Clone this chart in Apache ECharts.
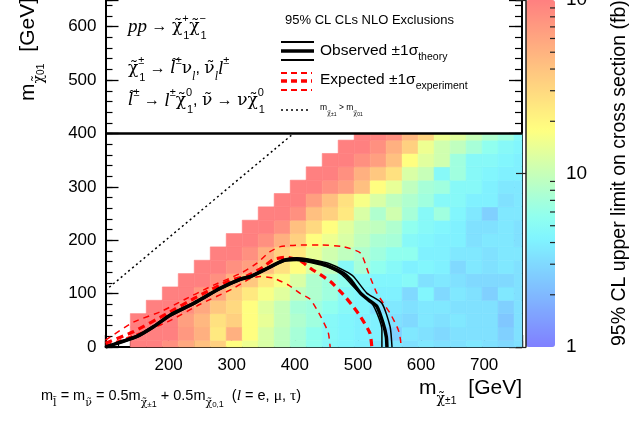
<!DOCTYPE html>
<html>
<head>
<meta charset="utf-8">
<script src="https://cdn.jsdelivr.net/npm/echarts@6/dist/echarts.min.js"></script>
<style>
  html, body { margin: 0; padding: 0; background: #fff; }
  #main { width: 642px; height: 432px; }
</style>
</head>
<body>
<div id="main"></div>
<script>
// chargino mass bin centres (GeV)
const massX = [101.3, 126.6, 152.0, 177.3, 202.7, 228.0, 253.3, 278.7, 304.0, 329.4, 354.7, 380.0, 405.4, 430.7,
  456.1, 481.4, 506.7, 532.1, 557.4, 582.8, 608.1, 633.4, 658.8, 684.1, 709.5, 734.8, 760.1];
// neutralino mass bin centres (GeV)
const massY = [0, 25, 50, 75, 100, 125, 150, 175, 200, 225, 250, 275, 300, 325, 350, 375, 400];

// 95% CL upper limit on cross section (fb), one row per neutralino bin, null = no point
const limitRows = [
  [null, null, 100, 100, 80, 58, 42, 34, 18, 15, 12, 9.3, 7.2, 5.6, 4.8, 4.4, 4.0, 3.6, 3.6, 3.3, 3.6, 3.3, 3.3, 3.6, 3.3, 3.0, 3.3],
  [null, null, 100, 100, 100, 72, 52, 24, 52, 18, 12, 9.3, 7.2, 5.6, 4.8, 4.4, 4.0, 4.0, 2.7, 3.6, 3.3, 3.0, 3.3, 3.3, 3.3, 2.7, 3.3],
  [null, null, 100, 100, 100, 65, 47, 27, 34, 18, 14, 10, 7.9, 6.7, 4.8, 4.4, 4.0, 4.0, 3.3, 3.0, 3.6, 3.3, 3.6, 3.3, 3.3, 2.4, 3.3],
  [null, null, null, 100, 100, 80, 58, 38, 30, 18, 13, 10, 7.2, 6.7, 5.6, 4.8, 4.4, 3.3, 3.6, 3.3, 3.6, 3.6, 3.3, 3.3, 3.3, 2.7, 3.3],
  [null, null, null, null, 100, 100, 72, 58, 34, 24, 16.6, 13, 9.3, 7.9, 6.7, 4.8, 4.4, 4.0, 4.0, 3.0, 4.4, 3.0, 3.6, 3.3, 2.7, 3.6, 3.3],
  [null, null, null, null, null, 100, 100, 80, 52, 38, 24, 16.6, 12, 7.9, 6.7, 5.6, 4.8, 4.4, 4.4, 4.8, 3.3, 3.6, 3.3, 3.0, 3.0, 3.0, 3.3],
  [null, null, null, null, null, null, 100, 100, 80, 65, 42, 27, 18, 12, 9.3, 4.8, 7.2, 5.6, 4.8, 4.0, 4.4, 4.0, 3.0, 3.6, 3.3, 3.6, 3.3],
  [null, null, null, null, null, null, null, 100, 100, 80, 52, 34, 24, 14, 11, 9.3, 7.9, 6.7, 5.6, 5.6, 4.0, 4.0, 3.6, 3.6, 3.3, 3.6, 3.6],
  [null, null, null, null, null, null, null, null, 100, 100, 80, 52, 34, 18, 15, 12, 9.3, 7.6, 7.2, 4.8, 4.4, 4.0, 4.0, 3.3, 3.6, 3.6, 3.3],
  [null, null, null, null, null, null, null, null, null, 100, 100, 80, 42, 30, 18, 13, 10, 9.3, 7.9, 5.6, 4.8, 4.4, 4.0, 3.3, 3.3, 3.6, 3.3],
  [null, null, null, null, null, null, null, null, null, null, 100, 100, 80, 42, 34, 24, 12, 7.9, 11, 7.2, 4.8, 6.7, 4.4, 3.6, 2.7, 3.6, 3.6],
  [null, null, null, null, null, null, null, null, null, null, null, 100, 100, 65, 42, 27, 16.6, 12, 9.3, 7.9, 6.7, 4.8, 4.8, 4.0, 4.0, 3.3, 3.6],
  [null, null, null, null, null, null, null, null, null, null, null, null, 100, 100, 80, 65, 42, 18, 14, 9.3, 7.2, 6.7, 4.8, 4.8, 4.0, 3.6, 3.6],
  [null, null, null, null, null, null, null, null, null, null, null, null, null, 100, 100, 80, 52, 38, 27, 12, 10, 4.8, 6.7, 4.8, 4.4, 4.0, 4.0],
  [null, null, null, null, null, null, null, null, null, null, null, null, null, null, 100, 100, 80, 65, 42, 18, 13, 11, 6.7, 4.8, 4.8, 4.4, 4.0],
  [null, null, null, null, null, null, null, null, null, null, null, null, null, null, null, 100, 100, 80, 52, 34, 15, 11, 9.3, 7.2, 5.6, 4.8, 4.4],
  [null, null, null, null, null, null, null, null, null, null, null, null, null, null, null, null, 100, 95, 80, 47, 32, 15, 13, 10, 7.9, 6.7, 4.8]
];

// exclusion contours [m_chargino, m_neutralino]
const observed = [[100, 0], [150, 20], [176, 38], [203, 60], [240, 82], [282, 110], [314, 127], [330, 132], [356, 147],
  [382, 162], [403, 165], [430, 160], [451, 153], [477, 138], [488, 126], [504, 101], [517, 88], [530, 76], [540, 44], [545, 19], [546, 0]];
const observedUp = [[100, 1], [150, 22], [176, 40], [203, 62], [240, 84], [282, 112], [314, 129], [330, 134], [356, 149],
  [382, 164], [403, 167], [430, 163], [455, 156], [480, 142], [493, 132], [514, 101], [538, 82], [551, 38], [554, 0]];
const observedDown = [[100, 0], [150, 18], [176, 36], [203, 58], [240, 80], [282, 108], [314, 125], [330, 130], [356, 145],
  [382, 160], [403, 162], [430, 157], [451, 150], [475, 135], [498, 107], [522, 82], [533, 55], [538, 32], [538, 0]];
const expected = [[100, 7], [145, 29], [198, 63], [245, 94], [298, 125], [324, 133], [350, 150], [366, 164], [385, 168],
  [408, 162], [424, 148], [456, 123], [477, 98], [491, 78], [504, 57], [519, 26], [522, 0]];
const expectedUp = [[100, 13], [145, 47], [187, 66], [224, 88], [266, 113], [314, 138], [340, 157], [360, 178], [377, 188],
  [409, 191], [440, 191], [477, 188], [504, 176], [517, 138], [530, 101], [551, 63], [564, 32], [568, 7], [567, 0]];
const expectedDown = [[100, 3], [145, 22], [198, 47], [250, 80], [303, 110], [329, 128], [345, 132], [366, 129], [390, 116],
  [409, 100], [424, 90], [435, 70], [442, 55], [453, 27], [456, 0]];
const kinematic = [[100, 106], [398, 400]];

// colour bar minor ticks (fb)
const cbarMinor = [2, 3, 4, 5, 6, 7, 8, 9, 20, 30, 40, 50, 60, 70, 80, 90];

const binW = 25.34, binH = 25;
const SANS = 'Liberation Sans', SERIF = 'Liberation Serif', GREEK = 'DejaVu Serif';
const CHI = 'χ\u0303', NUT = 'ν\u0303', LT = 'l\u0303';

const palette = ['#8080ff', '#8097ff', '#80afff', '#80c6ff', '#80ddff', '#80f5ff', '#90ffef', '#abffd4', '#c7ffb8',
  '#e3ff9c', '#ffff80', '#ffea80', '#ffd580', '#ffc080', '#ffaa80', '#ff9580', '#ff8080'];

const heatData = [];
limitRows.forEach((row, r) => {
  row.forEach((v, k) => {
    if (v != null) heatData.push([massX[k], massY[r], Math.log10(v)]);
  });
});

function renderCell(params, api) {
  const x = api.value(0), y = api.value(1);
  const x0 = Math.max(x - binW / 2, 100), x1 = Math.min(x + binW / 2, 760);
  const y0 = Math.max(y - binH / 2, 0), y1 = Math.min(y + binH / 2, 400);
  const p0 = api.coord([x0, y1]);
  const p1 = api.coord([x1, y0]);
  const c = api.visual('color');
  return {
    type: 'rect',
    shape: { x: p0[0], y: p0[1], width: p1[0] - p0[0], height: p1[1] - p0[1] },
    style: { fill: c, stroke: c, lineWidth: 0.6 }
  };
}

function contour(data, color, width, dash) {
  return {
    type: 'line', data: data, symbol: 'none', smooth: 0.2, clip: true, silent: true, z: 4,
    lineStyle: { color: color, width: width, type: dash || 'solid' }
  };
}

function axisBase(extra) {
  return Object.assign({
    type: 'value', splitLine: { show: false },
    axisLine: { show: true, onZero: false, lineStyle: { color: '#000', width: 2 } },
    axisTick: { show: true, inside: true, length: 12, lineStyle: { color: '#000', width: 1.3 } },
    axisLabel: { show: false }
  }, extra);
}

function txt(x, y, text, rich, style, rot) {
  return {
    type: 'text', x: x, y: y, rotation: rot || 0, z: 20, silent: true,
    style: Object.assign({ text: text, rich: rich, fill: '#000', fontFamily: SANS, fontSize: 16,
      align: 'left', verticalAlign: 'middle' }, style)
  };
}

const procRich = {
  r: { fontFamily: SANS, fontSize: 16, lineHeight: 28 },
  g: { fontFamily: GREEK, fontSize: 17, lineHeight: 28 },
  gi: { fontFamily: SERIF, fontStyle: 'italic', fontSize: 19, lineHeight: 28 },
  gt: { fontFamily: GREEK, fontStyle: 'italic', fontSize: 17, lineHeight: 28 },
  up: { fontFamily: SANS, fontSize: 11, lineHeight: 17, verticalAlign: 'top', width: 1 },
  upw: { fontFamily: SANS, fontSize: 11, lineHeight: 17, verticalAlign: 'top' },
  dn: { fontFamily: SANS, fontSize: 11, lineHeight: 14, verticalAlign: 'bottom' },
  dni: { fontFamily: SERIF, fontStyle: 'italic', fontSize: 12, lineHeight: 14, verticalAlign: 'bottom' }
};
const legRich = {
  t: { fontFamily: SANS, fontSize: 15.5, lineHeight: 24 },
  s: { fontFamily: SANS, fontSize: 10.5, lineHeight: 12, verticalAlign: 'bottom' }
};
const tinyRich = {
  m: { fontFamily: SANS, fontSize: 8.5, lineHeight: 18 },
  g: { fontFamily: GREEK, fontSize: 6.5, lineHeight: 11, verticalAlign: 'bottom' },
  u: { fontFamily: SANS, fontSize: 5, lineHeight: 16, verticalAlign: 'bottom' },
  d: { fontFamily: SANS, fontSize: 5, lineHeight: 7, verticalAlign: 'bottom' }
};
const footRich = {
  r: { fontFamily: SANS, fontSize: 14.5, lineHeight: 26 },
  i: { fontFamily: SERIF, fontStyle: 'italic', fontSize: 15.5, lineHeight: 26 },
  g: { fontFamily: SERIF, fontSize: 15.5, lineHeight: 26 },
  sg: { fontFamily: GREEK, fontSize: 11, lineHeight: 15, verticalAlign: 'bottom' },
  ss: { fontFamily: SANS, fontSize: 8, lineHeight: 21, verticalAlign: 'bottom' },
  s: { fontFamily: SANS, fontSize: 9, lineHeight: 10, verticalAlign: 'bottom' }
};
const titleRich = {
  r: { fontFamily: SANS, fontSize: 21, lineHeight: 36 },
  sg: { fontFamily: GREEK, fontSize: 14, lineHeight: 21, verticalAlign: 'bottom' },
  ss: { fontFamily: SANS, fontSize: 10, lineHeight: 30, verticalAlign: 'bottom' },
  s: { fontFamily: SANS, fontSize: 11, lineHeight: 13, verticalAlign: 'bottom' }
};

const option = {
  animation: false,
  backgroundColor: '#fff',
  grid: [
    { left: 105.5, right: 120, top: 0, bottom: 85, outerBoundsMode: 'none' },
    { left: 526, width: 29, top: 0, bottom: 85, outerBoundsMode: 'none' },
    { left: 105.5, right: 120, top: 0, bottom: 85, outerBoundsMode: 'none' }
  ],
  xAxis: [
    axisBase({
      gridIndex: 0, position: 'bottom', min: 100, max: 760, interval: 100,
      axisLabel: { show: true, fontSize: 17, fontFamily: SANS, color: '#000', margin: 10,
        formatter: v => (v === 100 || v === 760 ? '' : String(v)) }
    }),
    { type: 'value', gridIndex: 1, min: 0, max: 1, show: false },
    axisBase({
      gridIndex: 2, position: 'bottom', min: 100, max: 760, interval: 20,
      axisLine: { show: false }, axisTick: { show: true, inside: true, length: 6, lineStyle: { color: '#000', width: 1.2 } }
    })
  ],
  yAxis: [
    axisBase({
      gridIndex: 0, position: 'left', min: 0, max: 650, interval: 100,
      axisTick: { show: true, inside: true, length: 13, lineStyle: { color: '#000', width: 1.3 } },
      axisLabel: { show: true, fontSize: 17, fontFamily: SANS, color: '#000', margin: 9,
        formatter: v => (v % 100 === 0 ? String(v) : '') }
    }),
    axisBase({
      gridIndex: 0, position: 'right', min: 0, max: 650, interval: 100,
      axisTick: { show: true, inside: true, length: 13, lineStyle: { color: '#000', width: 1.3 } }
    }),
    {
      type: 'log', logBase: 10, gridIndex: 1, position: 'right', min: 1, max: 100, z: 10,
      splitLine: { show: false },
      axisLine: { show: true, lineStyle: { color: '#222', width: 1.5 } },
      axisTick: { show: true, inside: true, length: 10, lineStyle: { color: '#222', width: 1.2 } },
      minorTick: { show: false },
      axisLabel: {
        fontSize: 19, fontFamily: SANS, color: '#000', margin: 11,
        formatter: v => (v >= 99 ? '10{e|2}' : String(Math.round(v))),
        rich: { e: { fontSize: 12, fontFamily: SANS, color: '#000', verticalAlign: 'top', lineHeight: 24 } }
      }
    },
    axisBase({
      gridIndex: 2, position: 'left', min: 0, max: 650, interval: 20, axisLine: { show: false },
      axisTick: { show: true, inside: true, length: 7, lineStyle: { color: '#000', width: 1.2 } }
    }),
    axisBase({
      gridIndex: 2, position: 'right', min: 0, max: 650, interval: 20, axisLine: { show: false },
      axisTick: { show: true, inside: true, length: 7, lineStyle: { color: '#000', width: 1.2 } }
    })
  ],
  visualMap: {
    type: 'continuous', show: true, seriesIndex: 0, dimension: 2, min: 0, max: 2,
    orient: 'vertical', left: 526, top: 0, padding: 0, itemWidth: 29, itemHeight: 347,
    calculable: false, hoverLink: false, z: 1,
    inRange: { color: palette }
  },
  series: [
    {
      type: 'custom', xAxisIndex: 0, yAxisIndex: 0, data: heatData, renderItem: renderCell,
      encode: { x: 0, y: 1 }, silent: true, z: 1
    },
    Object.assign(contour(kinematic, '#000', 1.5, [2, 3]), {
      markLine: {
        silent: true, symbol: 'none', label: { show: false },
        lineStyle: { color: '#000', width: 2.5, type: 'solid' },
        data: [{ yAxis: 400 }]
      }
    }),
    contour(expectedUp, '#ff0000', 1.5, [6, 5]),
    contour(expectedDown, '#ff0000', 1.5, [6, 5]),
    contour(expected, '#ff0000', 3.2, [7, 5]),
    contour(observedUp, '#000', 1.5),
    contour(observedDown, '#000', 1.5),
    contour(observed, '#000', 3.5),
    {
      type: 'custom', xAxisIndex: 1, yAxisIndex: 2, z: 10, silent: true,
      data: cbarMinor.map(v => [1, v]),
      renderItem: (params, api) => {
        const c = api.coord([1, api.value(1)]);
        return { type: 'line', shape: { x1: c[0] - 5, y1: c[1], x2: c[0], y2: c[1] },
          style: { stroke: '#222', lineWidth: 1.2 } };
      }
    }
  ],
  graphic: [
    txt(128, 27, '{gi|pp} {r|→} {g|' + CHI + '}{up|+}{dn|1}{g|' + CHI + '}{up|−}{dn|1}', procRich),
    txt(128, 69, '{g|' + CHI + '}{up|±}{dn|1} {r|→} {gt|' + LT + '}{upw|±}{g|ν}{dni|l}{r|, }{g|' + NUT + '}{dni|l}{gi|l}{upw|±}', procRich),
    txt(128, 101, '{gt|' + LT + '}{upw|±} {r|→} {gi|l}{upw|±}{g|' + CHI + '}{up|0}{dn|1}{r|, }{g|' + NUT + '} {r|→} {g|ν' + CHI + '}{up|0}{dn|1}', procRich),
    txt(285, 20, '95% CL CLs NLO Exclusions', null, { fontSize: 13 }),
    { type: 'line', z: 20, silent: true, shape: { x1: 281, y1: 42, x2: 314, y2: 42 }, style: { stroke: '#000', lineWidth: 2 } },
    { type: 'line', z: 20, silent: true, shape: { x1: 281, y1: 51, x2: 314, y2: 51 }, style: { stroke: '#000', lineWidth: 3.5 } },
    { type: 'line', z: 20, silent: true, shape: { x1: 281, y1: 60, x2: 314, y2: 60 }, style: { stroke: '#000', lineWidth: 2 } },
    { type: 'line', z: 20, silent: true, shape: { x1: 281, y1: 73, x2: 312, y2: 73 }, style: { stroke: '#ff0000', lineWidth: 2, lineDash: [6, 4] } },
    { type: 'line', z: 20, silent: true, shape: { x1: 281, y1: 81, x2: 312, y2: 81 }, style: { stroke: '#ff0000', lineWidth: 3.5, lineDash: [6, 4] } },
    { type: 'line', z: 20, silent: true, shape: { x1: 281, y1: 90, x2: 312, y2: 90 }, style: { stroke: '#ff0000', lineWidth: 2, lineDash: [6, 4] } },
    { type: 'line', z: 20, silent: true, shape: { x1: 281, y1: 110, x2: 309, y2: 110 }, style: { stroke: '#000', lineWidth: 1.5, lineDash: [2, 3] } },
    txt(320, 51, '{t|Observed ±1σ}{s|theory}', legRich),
    txt(320, 80, '{t|Expected ±1σ}{s|experiment}', legRich),
    txt(320, 108, '{m|m}{g|' + CHI + '}{u|±}{d|1}{m| > m}{g|' + CHI + '}{u|0}{d|1}', tinyRich),
    txt(41, 396, '{r|m}{sg|' + LT + '}{r| = m}{sg|' + NUT + '}{r| = 0.5m}{sg|' + CHI + '}{ss|±}{s|1}{r| + 0.5m}{sg|' + CHI + '}{ss|0,}{s|1}{r|  (}{i|l}{r| = e, }{g|μ}{r|, }{g|τ}{r|)}', footRich),
    txt(522, 388, '{r|m}{sg|' + CHI + '}{ss|±}{s|1}{r|  [GeV]}', titleRich, { align: 'right' }),
    txt(28, 101, '{r|m}{sg|' + CHI + '}{ss|0}{s|1}{r|  [GeV]}', titleRich, null, Math.PI / 2),
    txt(620, 346, '95% CL upper limit on cross section (fb)', null, { fontSize: 19.5 }, Math.PI / 2)
  ]
};

const chart = echarts.init(document.getElementById('main'));
chart.setOption(option);
</script>
</body>
</html>
